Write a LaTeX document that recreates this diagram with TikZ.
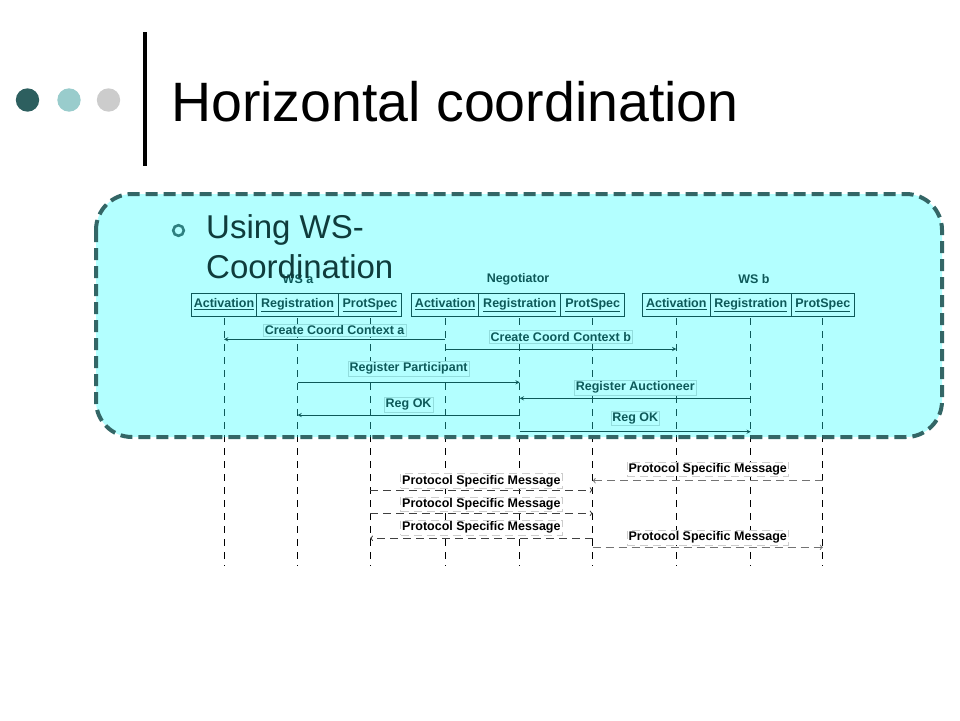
\documentclass[tikz,border=0pt]{standalone}
\usepackage{fontspec}
\setmainfont{Liberation Sans}
\usetikzlibrary{positioning}
\definecolor{tint}{RGB}{38,255,255}
\definecolor{rim}{RGB}{51,102,102}
\definecolor{dotA}{RGB}{45,95,95}
\definecolor{dotB}{RGB}{153,204,204}
\definecolor{dotC}{RGB}{204,204,204}
\definecolor{bul}{RGB}{46,128,128}
\definecolor{ink}{RGB}{15,60,60}

\begin{document}
\begin{tikzpicture}[>=stealth, x=1pt, y=-1pt,
    part/.style={draw, line width=1pt, fill=white, minimum height=23pt, text height=9pt, text depth=3pt, inner sep=2pt, outer sep=0pt, font=\fontsize{12.5}{14}\selectfont\bfseries},
    grp/.style={font=\fontsize{12.5}{14}\selectfont\bfseries},
    life/.style={line width=1pt, dash pattern=on 7pt off 6pt, shorten <=2pt},
    msg/.style={line width=0.9pt, ->},
    lbl/.style={draw=black!20, fill=white, inner sep=1.5pt, line width=0.5pt, font=\fontsize{12.5}{14}\selectfont\bfseries},
    psm/.style={line width=1pt, dash pattern=on 8pt off 5pt, -to}]
\useasboundingbox (0,0) rectangle (960,720);
% participants
\node[part, minimum width=65pt, anchor=west] (aAct) at (191.5,304.5) {\underline{Activation}};
\node[part, minimum width=82pt, right=0pt of aAct] (aReg) {\underline{Registration}};
\node[part, minimum width=63pt, right=0pt of aReg] (aProt) {\underline{ProtSpec}};
\node[part, minimum width=67pt, anchor=west] (nAct) at (411.7,304.5) {\underline{Activation}};
\node[part, minimum width=82pt, right=0pt of nAct] (nReg) {\underline{Registration}};
\node[part, minimum width=64pt, right=0pt of nReg] (nProt) {\underline{ProtSpec}};
\node[part, minimum width=68pt, anchor=west] (bAct) at (642.3,304.5) {\underline{Activation}};
\node[part, minimum width=81pt, right=0pt of bAct] (bReg) {\underline{Registration}};
\node[part, minimum width=63pt, right=0pt of bReg] (bProt) {\underline{ProtSpec}};
\node[grp] (wsa) at (298,279) {WS a};
\node[grp] (nego) at (518,279) {Negotiator};
\node[grp] (wsb) at (754,279) {WS b};
% lifelines
\coordinate (bot) at (0,566);
\draw[life] (aAct.south) -- (aAct |- bot);
\draw[life] (aReg.south) -- (aReg |- bot);
\draw[life] (aProt.south) -- (aProt |- bot);
\draw[life] (nAct.south) -- (nAct |- bot);
\draw[life] (nReg.south) -- (nReg |- bot);
\draw[life] (nProt.south) -- (nProt |- bot);
\draw[life] (bAct.south) -- (bAct |- bot);
\draw[life] (bReg.south) -- (bReg |- bot);
\draw[life] (bProt.south) -- (bProt |- bot);
% coordination messages
\coordinate (m1) at (0,339.3);
\coordinate (m2) at (0,349);
\coordinate (m3) at (0,382.3);
\coordinate (m4) at (0,398.3);
\coordinate (m5) at (0,415);
\coordinate (m6) at (0,431.7);
\draw[msg] (nAct |- m1) -- node[lbl, above=3pt]{Create Coord Context a} (aAct |- m1);
\draw[msg] (nAct |- m2) -- node[lbl, above=6pt]{Create Coord Context b} (bAct |- m2);
\draw[msg] (aReg |- m3) -- node[lbl, above=6pt]{Register Participant} (nReg |- m3);
\draw[msg] (bReg |- m4) -- node[lbl, above=3pt]{Register Auctioneer} (nReg |- m4);
\draw[msg] (nReg |- m5) -- node[lbl, above=3pt]{Reg OK} (aReg |- m5);
\draw[msg] (nReg |- m6) -- node[lbl, above=6pt]{Reg OK} (bReg |- m6);
% protocol specific messages
\coordinate (p1) at (0,480.7);
\coordinate (p2) at (0,490);
\coordinate (p3) at (0,513.3);
\coordinate (p4) at (0,538.3);
\coordinate (p5) at (0,547.3);
\draw[psm, black!55] (bProt |- p1) -- node[lbl, text=black, above=4pt]{Protocol Specific Message} (nProt |- p1);
\draw[psm, black!75] (aProt |- p2) -- node[lbl, text=black, above=1.5pt]{Protocol Specific Message} (nProt |- p2);
\draw[psm, black!75] (aProt |- p3) -- node[lbl, text=black, above=1.5pt]{Protocol Specific Message} (nProt |- p3);
\draw[psm, black!75] (nProt |- p4) -- node[lbl, text=black, above=3pt]{Protocol Specific Message} (aProt |- p4);
\draw[psm, black!55] (nProt |- p5) -- node[lbl, text=black, above=2pt]{Protocol Specific Message} (bProt |- p5);
% highlight box
\fill[tint, opacity=0.35, rounded corners=36pt] (96,194) rectangle (942,437);
\draw[rim, line width=4pt, dash pattern=on 12pt off 6pt, rounded corners=36pt] (96,194) rectangle (942,437);
% heading
\fill[dotA] (27.5,100) circle (11.7);
\fill[dotB] (69,100) circle (11.7);
\fill[dotC] (108.5,100) circle (11.7);
\draw[line width=4pt] (145,32) -- (145,166);
\node[anchor=base west, inner sep=0pt, font=\fontsize{55.5}{66}\selectfont] (title) at (171,121) {Horizontal coordination};
\draw[bul, line width=2.6pt] (178.5,230.5) circle (5.3);
\node[anchor=base west, inner sep=0pt, text=ink, font=\fontsize{33}{40}\selectfont] (using) at (206,238) {Using WS-};
\node[anchor=base west, inner sep=0pt, text=ink, font=\fontsize{33}{40}\selectfont] (coord) at (206,278) {Coordination};
\end{tikzpicture}
\end{document}
